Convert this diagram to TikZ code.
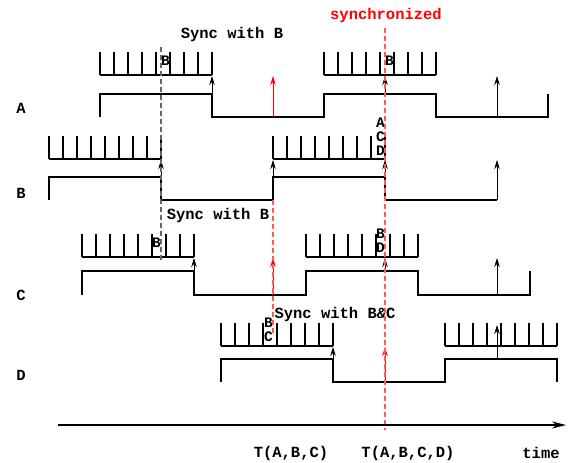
\documentclass[tikz,border=0pt]{standalone}
\usepackage{fontspec}
\setmainfont{Liberation Mono}
\usetikzlibrary{arrows.meta}
\tikzset{
  sig/.style={line width=1.6bp, black},
  tickln/.style={line width=1.2bp, black},
  arr/.style={line width=1bp, -{Stealth[length=9bp,width=5.5bp]}},
  redarr/.style={arr, red},
  lbl/.style={font=\fontsize{15.5bp}{15.5bp}\selectfont\bfseries, inner sep=0pt},
  small/.style={font=\fontsize{14.5bp}{14.5bp}\selectfont\bfseries, inner sep=0pt},
  reddash/.style={red!65, line width=1.1bp, dash pattern=on 5bp off 3bp},
  greydash/.style={black!60, line width=1.1bp, dash pattern=on 5bp off 3bp},
}
\newcommand\mytickbox[3]{%
  \foreach \i in {0,...,8} \draw[tickln] ({#1+14*\i},#2) -- ({#1+14*\i},#3);
  \draw[tickln] (#1,#3) -- ({#1+112},#3);}
\begin{document}
\begin{tikzpicture}[x=1bp,y=-1bp]
\useasboundingbox (0,0) rectangle (573,463);
% row labels
\node[lbl] (la) at (21,108) {A};
\node[lbl] (lb) at (21,193) {B};
\node[lbl] (lc) at (21,295) {C};
\node[lbl] (ld) at (21,375) {D};
% titles
\node[lbl] (s1) at (232,34) {Sync with B};
\node[lbl, text=red] (syn) at (386,15) {synchronized};
\node[lbl] (s2) at (218,215) {Sync with B};
\node[lbl] (s3) at (335,314) {Sync with B\&C};
% tick boxes
\mytickbox{100}{52}{75}
\mytickbox{324}{52}{75}
\mytickbox{49}{136}{159}
\mytickbox{273}{136}{159}
\mytickbox{82}{234}{257}
\mytickbox{306}{234}{257}
\mytickbox{221}{323}{346}
\mytickbox{445}{323}{346}
% signals
\draw[sig] (100,117)--(100,94)--(212,94)--(212,117)--(324,117)--(324,94)--(436,94)--(436,117)--(548,117)--(548,94);
\draw[sig] (49,200)--(49,177)--(161,177)--(161,200)--(273,200)--(273,177)--(385,177)--(385,200)--(497,200);
\draw[sig] (82,295)--(82,271)--(194,271)--(194,295)--(306,295)--(306,271)--(418,271)--(418,295)--(530,295)--(530,271);
\draw[sig] (221,382)--(221,359)--(333,359)--(333,382)--(445,382)--(445,359)--(557,359)--(557,382);
% arrows row A
\draw[arr] (212,94)--(212,76);
\draw[redarr] (273,117)--(273,76);
\draw[arr] (385,94)--(385,76);
\draw[arr] (497,117)--(497,76);
% arrows row B
\draw[arr] (161,177)--(161,160);
\draw[arr] (273,177)--(273,160);
\draw[arr] (385,200)--(385,160);
\draw[arr] (497,200)--(497,160);
% arrows row C
\draw[arr] (194,271)--(194,258);
\draw[redarr] (273,295)--(273,258);
\draw[arr] (385,271)--(385,258);
\draw[arr] (497,295)--(497,258);
% arrows row D
\draw[arr] (333,359)--(333,347);
\draw[redarr] (385,382)--(385,347);
\draw[arr] (497,359)--(497,325);
% small labels
\node[small, anchor=west] (b1) at (161,61) {B};
\node[small, anchor=west] (b2) at (385,61) {B};
\node[small, anchor=east] (a3) at (385,123) {A};
\node[small, anchor=east] (c3) at (385,137) {C};
\node[small, anchor=east] (d3) at (385,151) {D};
\node[small, anchor=east] (b4) at (161,243) {B};
\node[small, anchor=east] (b5) at (385,234) {B};
\node[small, anchor=east] (d5) at (385,248) {D};
\node[small, anchor=east] (b6) at (273,323) {B};
\node[small, anchor=east] (c6) at (273,337) {C};
% dashed lines
\draw[greydash] (161,47)--(161,262);
\draw[reddash] (385,28)--(385,430);
\draw[reddash] (273,200)--(273,335);
% time axis
\coordinate (ax0) at (58,425);
\coordinate (ax1) at (566,425);
\draw[line width=1.4bp, -{Stealth[length=14bp,width=7bp]}] (ax0)--(ax1);
\node[lbl] (t1) at (291,453) {T(A,B,C)};
\node[lbl] (t2) at (408,453) {T(A,B,C,D)};
\node[lbl] (t3) at (541,453) {time};
\end{tikzpicture}
\end{document}
